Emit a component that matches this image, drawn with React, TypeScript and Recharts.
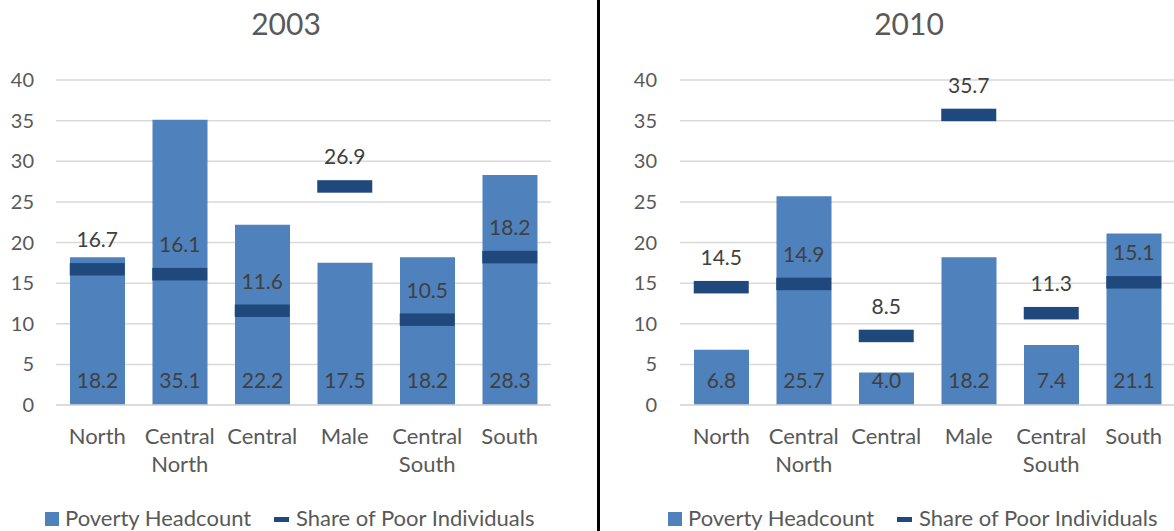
import React from 'react';
import { ComposedChart, Bar, Line, XAxis, YAxis, CartesianGrid, LabelList } from 'recharts';

const categories = ['North', 'Central North', 'Central', 'Male', 'Central South', 'South'];
const headcount2003 = [18.2, 35.1, 22.2, 17.5, 18.2, 28.3];
const share2003 = [16.7, 16.1, 11.6, 26.9, 10.5, 18.2];
const headcount2010 = [6.8, 25.7, 4.0, 18.2, 7.4, 21.1];
const share2010 = [14.5, 14.9, 8.5, 35.7, 11.3, 15.1];
const yTicks = [0, 5, 10, 15, 20, 25, 30, 35, 40];
const titles = ['2003', '2010'];
const seriesNames = ['Poverty Headcount', 'Share of Poor Individuals'];

const FONT = 'Lato, "Open Sans", sans-serif';
const BAR_COLOR = '#4F81BD';
const MARK_COLOR = '#1F497D';
const TICK_COLOR = '#595959';
const LABEL_COLOR = '#404040';
const GRID_COLOR = '#D9D9D9';
const BAR_W = 55;

const build = (hc: number[], sh: number[]) =>
  categories.map((c, i) => ({ name: c, headcount: hc[i], share: sh[i] }));

const data2003 = build(headcount2003, share2003);
const data2010 = build(headcount2010, share2010);

const CatTick = (props: any) => {
  const { x, y, payload } = props;
  const words = String(payload.value).split(' ');
  return (
    <text x={x} y={y + 39} textAnchor="middle" fill={TICK_COLOR} fontSize={22} fontFamily={FONT}>
      {words.map((w, i) => (
        <tspan key={i} x={x} dy={i === 0 ? 0 : 28}>
          {w}
        </tspan>
      ))}
    </text>
  );
};

const BarValueLabel = (props: any) => {
  const { x, y, width, height, value } = props;
  return (
    <text x={x + width / 2} y={y + height - 17} textAnchor="middle" fill={LABEL_COLOR} fontSize={21} fontFamily={FONT}>
      {Number(value).toFixed(1)}
    </text>
  );
};

const ShareLabel = (props: any) => {
  const { x, y, value } = props;
  return (
    <text x={x} y={y - 22} textAnchor="middle" fill={LABEL_COLOR} fontSize={21} fontFamily={FONT}>
      {Number(value).toFixed(1)}
    </text>
  );
};

const Marker = (props: any) => {
  const { cx, cy, index } = props;
  if (cx == null || cy == null) return <g key={index} />;
  return <rect key={index} x={cx - BAR_W / 2} y={cy - 6.25} width={BAR_W} height={12.5} fill={MARK_COLOR} />;
};

const Panel = ({ data, width, yWidth, rightMargin, tickMargin }: any) => (
  <ComposedChart
    width={width}
    height={531}
    data={data}
    margin={{ top: 80, right: rightMargin, bottom: 66, left: 0 }}
    barCategoryGap="16.6%"
  >
    <CartesianGrid vertical={false} stroke={GRID_COLOR} strokeWidth={1.5} />
    <XAxis
      dataKey="name"
      height={60}
      tickLine={false}
      tickSize={0}
      tickMargin={0}
      axisLine={{ stroke: GRID_COLOR, strokeWidth: 1.5 }}
      tick={<CatTick />}
      interval={0}
    />
    <YAxis
      width={yWidth}
      domain={[0, 40]}
      ticks={yTicks}
      axisLine={false}
      tickLine={false}
      tickSize={0}
      tickMargin={tickMargin}
      tick={{ fill: TICK_COLOR, fontSize: 20, fontFamily: FONT }}
    />
    <Bar dataKey="headcount" fill={BAR_COLOR} barSize={BAR_W} isAnimationActive={false}>
      <LabelList dataKey="headcount" content={<BarValueLabel />} />
    </Bar>
    <Line
      dataKey="share"
      stroke="none"
      dot={Marker}
      activeDot={false}
      isAnimationActive={false}
    >
      <LabelList dataKey="share" content={<ShareLabel />} />
    </Line>
  </ComposedChart>
);

const Legend = ({ dx }: { dx: number }) => (
  <g transform={`translate(${dx},0)`}>
    <rect x={45} y={512} width={14} height={14} fill={BAR_COLOR} />
    <text x={65} y={526} fill={TICK_COLOR} fontSize={22} fontFamily={FONT}>
      {seriesNames[0]}
    </text>
    <rect x={274} y={517} width={15} height={5} fill={MARK_COLOR} />
    <text x={296} y={526} fill={TICK_COLOR} fontSize={22} fontFamily={FONT}>
      {seriesNames[1]}
    </text>
  </g>
);

export default function App() {
  return (
    <div
      style={{
        position: 'absolute',
        left: 0,
        top: 0,
        width: 1174,
        height: 531,
        background: '#fff',
        overflow: 'hidden',
      }}
    >
      <div style={{ position: 'absolute', left: 0, top: 0 }}>
        <Panel data={data2003} width={597} yWidth={56} rightMargin={46} tickMargin={22} />
      </div>
      <div style={{ position: 'absolute', left: 600, top: 0 }}>
        <Panel data={data2010} width={575} yWidth={80} rightMargin={0} tickMargin={23} />
      </div>
      <svg
        width={1174}
        height={531}
        style={{ position: 'absolute', left: 0, top: 0, pointerEvents: 'none' }}
      >
        <rect x={597} y={0} width={3} height={531} fill="#000" />
        <text x={286} y={35} textAnchor="middle" fill={TICK_COLOR} fontSize={30} fontFamily={FONT}>
          {titles[0]}
        </text>
        <text x={909} y={35} textAnchor="middle" fill={TICK_COLOR} fontSize={30} fontFamily={FONT}>
          {titles[1]}
        </text>
        <Legend dx={0} />
        <Legend dx={623} />
      </svg>
    </div>
  );
}
